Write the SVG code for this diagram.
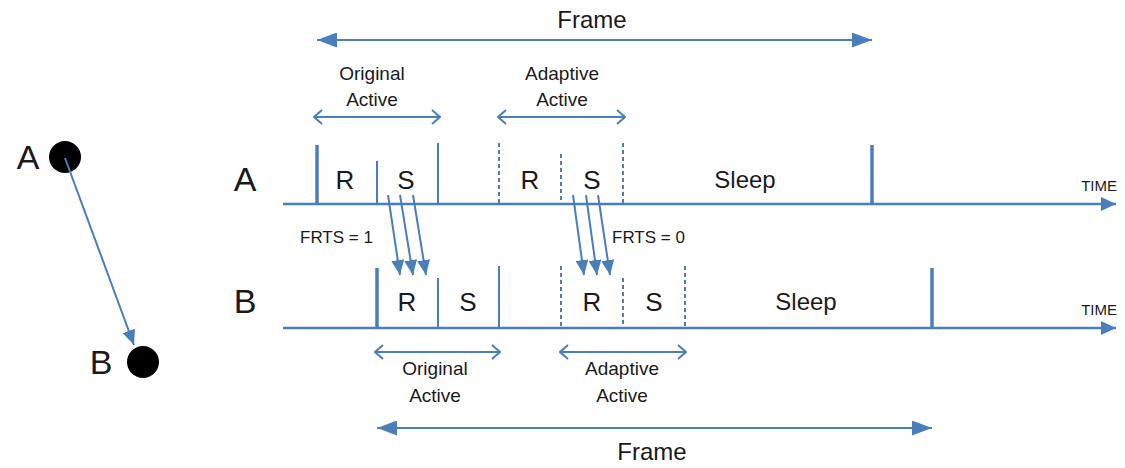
<svg xmlns="http://www.w3.org/2000/svg" width="1125" height="468" viewBox="0 0 1125 468">
  <style>
    text { font-family: "Liberation Sans", Arial, sans-serif; fill: #1a1a1a; }
    .big { font-size: 34px; text-anchor: middle; }
    .slot { font-size: 26px; text-anchor: middle; }
    .sleep { font-size: 24px; text-anchor: middle; }
    .lbl { font-size: 19px; text-anchor: middle; }
    .frame { font-size: 24px; text-anchor: middle; }
    .time { font-size: 15px; text-anchor: end; }
    .frts { font-size: 17px; }
    .axis { stroke: #4a7ebb; stroke-width: 2.5; fill: none; }
    .thick { stroke: #4a7ebb; stroke-width: 3.5; }
    .thin { stroke: #4a7ebb; stroke-width: 2; }
    .dash { stroke: #4a7ebb; stroke-width: 2; stroke-dasharray: 4 3; }
    .span { stroke: #4a7ebb; stroke-width: 2; fill: none; }
    .msg { stroke: #4a7ebb; stroke-width: 2; fill: none; }
  </style>
  <defs>
    <!-- axis arrowhead -->
    <marker id="head" viewBox="0 0 15 14" refX="15" refY="7" markerWidth="15" markerHeight="14" markerUnits="userSpaceOnUse" orient="auto-start-reverse">
      <path d="M0,0 L15,7 L0,14 z" fill="#4a7ebb"/>
    </marker>
    <!-- frame span arrowhead -->
    <marker id="big" viewBox="0 0 20 15" refX="20" refY="7.5" markerWidth="20" markerHeight="15" markerUnits="userSpaceOnUse" orient="auto-start-reverse">
      <path d="M0,0 L20,7.5 L0,15 z" fill="#4a7ebb"/>
    </marker>
    <!-- message arrowhead -->
    <marker id="msg" viewBox="0 0 15 13" refX="15" refY="6.5" markerWidth="15" markerHeight="13" markerUnits="userSpaceOnUse" orient="auto-start-reverse">
      <path d="M0,0 L15,6.5 L0,13 z" fill="#4a7ebb"/>
    </marker>
    <!-- open chevron for active spans -->
    <marker id="chev" viewBox="0 0 10 16" refX="9" refY="8" markerWidth="10" markerHeight="16" markerUnits="userSpaceOnUse" orient="auto-start-reverse">
      <path d="M1,1 L9,8 L1,15" fill="none" stroke="#4a7ebb" stroke-width="2"/>
    </marker>
  </defs>

  <!-- topology: node A sends to node B -->
  <g id="node-a">
    <circle cx="65" cy="157" r="16" fill="#000"/>
    <text x="28" y="169" class="big">A</text>
  </g>
  <g id="node-b">
    <circle cx="143" cy="362" r="16" fill="#000"/>
    <text x="101" y="374" class="big">B</text>
  </g>

  <!-- timeline of A -->
  <g id="timeline-a">
    <text x="245" y="191" class="big">A</text>
    <line x1="283" y1="204" x2="1116" y2="204" class="axis" marker-end="url(#head)"/>
    <text x="1117" y="191" class="time">TIME</text>
    <line x1="317" y1="145" x2="317" y2="204" class="thick"/>
    <line x1="377" y1="161" x2="377" y2="204" class="thin"/>
    <line x1="438" y1="143" x2="438" y2="204" class="thin"/>
    <line x1="499" y1="143" x2="499" y2="204" class="dash"/>
    <line x1="561" y1="154" x2="561" y2="204" class="dash"/>
    <line x1="623" y1="143" x2="623" y2="204" class="dash"/>
    <line x1="872" y1="145" x2="872" y2="204" class="thick"/>
    <text x="345" y="189" class="slot">R</text>
    <text x="406" y="189" class="slot">S</text>
    <text x="530" y="189" class="slot">R</text>
    <text x="592" y="189" class="slot">S</text>
    <text x="745" y="188" class="sleep">Sleep</text>
  </g>

  <!-- timeline of B -->
  <g id="timeline-b">
    <text x="245" y="313" class="big">B</text>
    <line x1="283" y1="328" x2="1116" y2="328" class="axis" marker-end="url(#head)"/>
    <text x="1117" y="315" class="time">TIME</text>
    <line x1="377" y1="268" x2="377" y2="328" class="thick"/>
    <line x1="438" y1="278" x2="438" y2="328" class="thin"/>
    <line x1="499" y1="266" x2="499" y2="328" class="thin"/>
    <line x1="561" y1="266" x2="561" y2="328" class="dash"/>
    <line x1="623" y1="278" x2="623" y2="328" class="dash"/>
    <line x1="685" y1="266" x2="685" y2="328" class="dash"/>
    <line x1="932" y1="268" x2="932" y2="328" class="thick"/>
    <text x="407" y="311" class="slot">R</text>
    <text x="468" y="311" class="slot">S</text>
    <text x="592" y="311" class="slot">R</text>
    <text x="654" y="311" class="slot">S</text>
    <text x="806" y="310" class="sleep">Sleep</text>
  </g>

  <!-- span annotations -->
  <g id="frame-a">
    <line x1="317" y1="40" x2="872" y2="40" class="span" marker-start="url(#big)" marker-end="url(#big)"/>
    <text x="592" y="28" class="frame">Frame</text>
  </g>
  <g id="original-active-a">
    <line x1="314" y1="117" x2="440" y2="117" class="span" marker-start="url(#chev)" marker-end="url(#chev)"/>
    <text x="372" y="80" class="lbl">Original</text>
    <text x="372" y="106" class="lbl">Active</text>
  </g>
  <g id="adaptive-active-a">
    <line x1="498" y1="117" x2="625" y2="117" class="span" marker-start="url(#chev)" marker-end="url(#chev)"/>
    <text x="562" y="80" class="lbl">Adaptive</text>
    <text x="562" y="106" class="lbl">Active</text>
  </g>
  <g id="original-active-b">
    <line x1="375" y1="352" x2="500" y2="352" class="span" marker-start="url(#chev)" marker-end="url(#chev)"/>
    <text x="435" y="375" class="lbl">Original</text>
    <text x="435" y="402" class="lbl">Active</text>
  </g>
  <g id="adaptive-active-b">
    <line x1="560" y1="352" x2="686" y2="352" class="span" marker-start="url(#chev)" marker-end="url(#chev)"/>
    <text x="622" y="375" class="lbl">Adaptive</text>
    <text x="622" y="402" class="lbl">Active</text>
  </g>
  <g id="frame-b">
    <line x1="377" y1="428" x2="932" y2="428" class="span" marker-start="url(#big)" marker-end="url(#big)"/>
    <text x="652" y="460" class="frame">Frame</text>
  </g>

  <g id="frts-labels">
    <text x="300" y="243" class="frts">FRTS = 1</text>
    <text x="612" y="243" class="frts">FRTS = 0</text>
  </g>

  <!-- connectors -->
  <g id="connectors">
    <line x1="65" y1="158" x2="134" y2="345" class="msg" marker-end="url(#msg)"/>
    <line x1="388" y1="195" x2="400" y2="275" class="msg" marker-end="url(#msg)"/>
    <line x1="400" y1="195" x2="413" y2="275" class="msg" marker-end="url(#msg)"/>
    <line x1="413" y1="195" x2="426" y2="275" class="msg" marker-end="url(#msg)"/>
    <line x1="573" y1="195" x2="584" y2="275" class="msg" marker-end="url(#msg)"/>
    <line x1="586" y1="195" x2="597" y2="275" class="msg" marker-end="url(#msg)"/>
    <line x1="598" y1="195" x2="610" y2="275" class="msg" marker-end="url(#msg)"/>
  </g>
</svg>
